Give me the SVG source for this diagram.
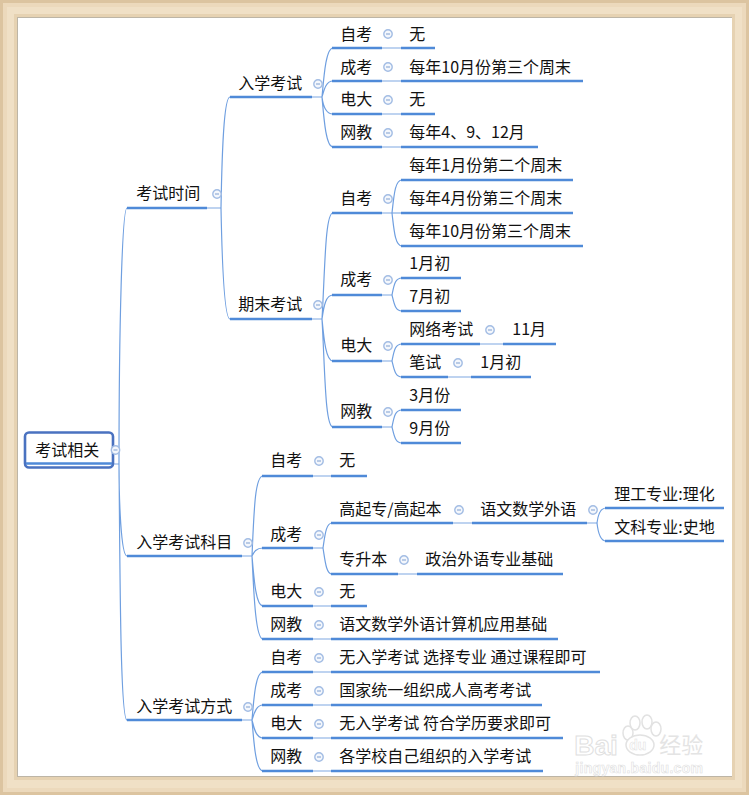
<svg xmlns="http://www.w3.org/2000/svg" width="749" height="795" viewBox="0 0 749 795">
<style>
text{font-family:"Noto Sans CJK SC","Liberation Sans",sans-serif;font-size:16px;fill:#111;transform:translateX(-.7px)}
.u{stroke:#4f8ad8;stroke-width:2.6;fill:none}
.s{stroke:#a9c5ec;stroke-width:1.5;fill:none}
.c{stroke:#6f9fe0;stroke-width:1.2;fill:none}
.wm{font-family:"Liberation Sans",sans-serif;font-weight:bold;fill:#fff;stroke:#e0e0e0;stroke-width:1}
</style>
<defs>
<g id="tg"><circle r="4.200" fill="#f4f7fc" stroke="#a3bde4" stroke-width="1.400"/><path d="M-2 0H2" stroke="#7f9fd0" stroke-width="1"/></g>
</defs>
<g id="frame">
<rect width="749" height="795" fill="#f0e0c6"/>
<rect x="1.500" y="1.500" width="746" height="792" fill="none" stroke="#dcc4a0" stroke-width="3"/>
<rect x="5" y="5" width="739" height="785" fill="none" stroke="#ecd9bc" stroke-width="4"/>
<rect x="15.500" y="15.500" width="718" height="763" fill="none" stroke="#e6d2b2" stroke-width="3"/>
<rect x="17" y="17" width="715" height="760" fill="#bdb5a6"/>
<rect x="18" y="18" width="714" height="758" fill="#fff"/>
</g>
<g id="watermark">
<g fill="#fff" stroke="#e2e2e2" stroke-width="1.500"><ellipse cx="628" cy="733" rx="5" ry="7"/><ellipse cx="635" cy="723" rx="5" ry="7"/><ellipse cx="647" cy="722" rx="5" ry="7"/><ellipse cx="656" cy="729" rx="5" ry="7"/><ellipse cx="640" cy="745" rx="14" ry="10"/></g>
<text class="wm" x="575" y="755" style="font-size:28px">Bai</text>
<text class="wm" x="630" y="750" style="font-size:14px;stroke-width:.5">du</text>
<text x="660" y="753" style="font-size:22px;fill:#e4e4e4">经验</text>
<text class="wm" x="576" y="773" style="font-size:14px;letter-spacing:.3px;stroke-width:.6">jingyan.baidu.com</text>
</g>
<g id="connectors">
<path class="s" d="M113 464H119"/>
<path class="c" d="M119 464C119 330 122 208 127 208M119 464C119 500 121 556 127 556M119 464C120 560 120 720 127 720"/>
<path class="s" d="M207 208H221M242 556H252M242 720H252"/>
<path class="c" d="M221 208C222 150 224 97 230 97M221 208C222 260 224 319 230 319"/>
<path class="s" d="M312 97H322M312 319H322"/>
<path class="c" d="M322 97C324 75 326 48 333 48M322 97C324 90 326 81 333 81M322 97C323 105 326 114 333 114M322 97C324 120 326 147 333 147"/>
<path class="c" d="M322 319C325 270 325 213 333 213M322 319C324 305 326 295 333 295M322 319C324 340 326 361 333 361M322 319C325 370 325 427 333 427"/>
<path class="s" d="M382 48H401M382 81H401M382 114H401M382 147H401M382 213H392M382 295H392M382 361H392M382 427H392"/>
<path class="c" d="M392 213C394 195 395 180 402 180M392 213H402M392 213C394 230 395 246 402 246"/>
<path class="c" d="M392 295C394 285 395 278 402 278M392 295C394 303 395 311 402 311"/>
<path class="c" d="M392 361C394 351 395 344 402 344M392 361C394 369 395 377 402 377"/>
<path class="c" d="M392 427C394 417 395 410 402 410M392 427C394 435 395 443 402 443"/>
<path class="s" d="M480 344H503M448 377H471"/>
<path class="c" d="M252 556C254 510 255 476 263 476M252 556C254 552 256 548 263 548M252 556C254 580 256 606 263 606M252 556C254 600 256 639 263 639"/>
<path class="c" d="M252 720C254 695 256 672 263 672M252 720C254 714 256 705 263 705M252 720C254 728 256 738 263 738M252 720C254 745 256 771 263 771"/>
<path class="s" d="M313 476H331M313 606H331M313 639H331M313 672H331M313 705H331M313 738H331M313 771H331M313 548H323"/>
<path class="c" d="M323 548C325 535 326 523 332 523M323 548C325 560 326 574 332 574"/>
<path class="s" d="M453 523H472M398 574H417M587 523H597"/>
<path class="c" d="M597 523C598 515 600 508 606 508M597 523C598 532 600 541 606 541"/>
</g>
<g id="n-root"><rect x="25" y="432.500" width="88" height="35" rx="4" fill="#fff" stroke="#4a72c0" stroke-width="2.600"/><path class="u" d="M26 463.500H112"/><text x="36" y="456">考试相关</text><use href="#tg" x="115.500" y="450"/></g>
<g id="n-a"><path class="u" d="M127 208H207"/><text x="137" y="199">考试时间</text><use href="#tg" x="217" y="194"/></g>
<g id="n-a1"><path class="u" d="M230 97H312"/><text x="239" y="89">入学考试</text><use href="#tg" x="318" y="84"/></g>
<g id="n-a1-1"><path class="u" d="M332 48H382"/><text x="341" y="40">自考</text><use href="#tg" x="388" y="34"/></g>
<g id="n-a1-1a"><path class="u" d="M401 48H435"/><text x="410" y="40">无</text></g>
<g id="n-a1-2"><path class="u" d="M332 81H382"/><text x="341" y="73">成考</text><use href="#tg" x="388" y="67"/></g>
<g id="n-a1-2a"><path class="u" d="M401 81H583"/><text x="410" y="73">每年10月份第三个周末</text></g>
<g id="n-a1-3"><path class="u" d="M332 114H382"/><text x="341" y="105">电大</text><use href="#tg" x="388" y="100"/></g>
<g id="n-a1-3a"><path class="u" d="M401 114H435"/><text x="410" y="105">无</text></g>
<g id="n-a1-4"><path class="u" d="M332 147H382"/><text x="341" y="138">网教</text><use href="#tg" x="388" y="133"/></g>
<g id="n-a1-4a"><path class="u" d="M401 147H538"/><text x="410" y="138">每年4、9、12月</text></g>
<g id="n-a2"><path class="u" d="M230 319H312"/><text x="239" y="310">期末考试</text><use href="#tg" x="318" y="305"/></g>
<g id="n-a2-1"><path class="u" d="M332 213H382"/><text x="341" y="204">自考</text><use href="#tg" x="388" y="199"/></g>
<g id="n-a2-1a"><path class="u" d="M401 180H573"/><text x="410" y="171">每年1月份第二个周末</text></g>
<g id="n-a2-1b"><path class="u" d="M401 213H573"/><text x="410" y="204">每年4月份第三个周末</text></g>
<g id="n-a2-1c"><path class="u" d="M401 246H583"/><text x="410" y="237">每年10月份第三个周末</text></g>
<g id="n-a2-2"><path class="u" d="M332 295H382"/><text x="341" y="285">成考</text><use href="#tg" x="388" y="280"/></g>
<g id="n-a2-2a"><path class="u" d="M401 278H461"/><text x="410" y="269">1月初</text></g>
<g id="n-a2-2b"><path class="u" d="M401 311H461"/><text x="410" y="302">7月初</text></g>
<g id="n-a2-3"><path class="u" d="M332 361H382"/><text x="341" y="351">电大</text><use href="#tg" x="388" y="346"/></g>
<g id="n-a2-3a"><path class="u" d="M401 344H480"/><text x="410" y="335">网络考试</text><use href="#tg" x="490" y="330"/></g>
<g id="n-a2-3a1"><path class="u" d="M503 344H556"/><text x="513" y="335">11月</text></g>
<g id="n-a2-3b"><path class="u" d="M401 377H448"/><text x="410" y="368">笔试</text><use href="#tg" x="458" y="363"/></g>
<g id="n-a2-3b1"><path class="u" d="M471 377H531"/><text x="481" y="368">1月初</text></g>
<g id="n-a2-4"><path class="u" d="M332 427H382"/><text x="341" y="417">网教</text><use href="#tg" x="388" y="412"/></g>
<g id="n-a2-4a"><path class="u" d="M401 410H461"/><text x="410" y="401">3月份</text></g>
<g id="n-a2-4b"><path class="u" d="M401 443H461"/><text x="410" y="434">9月份</text></g>
<g id="n-b"><path class="u" d="M127 556H242"/><text x="137" y="548">入学考试科目</text><use href="#tg" x="248" y="543"/></g>
<g id="n-b1"><path class="u" d="M262 476H313"/><text x="271" y="466">自考</text><use href="#tg" x="319" y="461"/></g>
<g id="n-b1a"><path class="u" d="M331 476H367"/><text x="340" y="466">无</text></g>
<g id="n-b2"><path class="u" d="M262 548H313"/><text x="271" y="540">成考</text><use href="#tg" x="319" y="535"/></g>
<g id="n-b2a"><path class="u" d="M331 523H453"/><text x="340" y="515">高起专/高起本</text><use href="#tg" x="459" y="510"/></g>
<g id="n-b2a1"><path class="u" d="M472 523H587"/><text x="481" y="515">语文数学外语</text><use href="#tg" x="593" y="510"/></g>
<g id="n-b2a1a"><path class="u" d="M605 508H724"/><text x="615" y="500">理工专业:理化</text></g>
<g id="n-b2a1b"><path class="u" d="M605 541H724"/><text x="615" y="533">文科专业:史地</text></g>
<g id="n-b2b"><path class="u" d="M331 574H398"/><text x="340" y="565">专升本</text><use href="#tg" x="404" y="560"/></g>
<g id="n-b2b1"><path class="u" d="M417 574H563"/><text x="426" y="565">政治外语专业基础</text></g>
<g id="n-b3"><path class="u" d="M262 606H313"/><text x="271" y="597">电大</text><use href="#tg" x="319" y="592"/></g>
<g id="n-b3a"><path class="u" d="M331 606H367"/><text x="340" y="597">无</text></g>
<g id="n-b4"><path class="u" d="M262 639H313"/><text x="271" y="630">网教</text><use href="#tg" x="319" y="625"/></g>
<g id="n-b4a"><path class="u" d="M331 639H558"/><text x="340" y="630">语文数学外语计算机应用基础</text></g>
<g id="n-c"><path class="u" d="M127 720H242"/><text x="137" y="712">入学考试方式</text><use href="#tg" x="248" y="707"/></g>
<g id="n-c1"><path class="u" d="M262 672H313"/><text x="271" y="663">自考</text><use href="#tg" x="319" y="658"/></g>
<g id="n-c1a"><path class="u" d="M331 672H600"/><text x="340" y="663">无入学考试 选择专业 通过课程即可</text></g>
<g id="n-c2"><path class="u" d="M262 705H313"/><text x="271" y="696">成考</text><use href="#tg" x="319" y="691"/></g>
<g id="n-c2a"><path class="u" d="M331 705H542"/><text x="340" y="696">国家统一组织成人高考考试</text></g>
<g id="n-c3"><path class="u" d="M262 738H313"/><text x="271" y="729">电大</text><use href="#tg" x="319" y="724"/></g>
<g id="n-c3a"><path class="u" d="M331 738H563"/><text x="340" y="729">无入学考试 符合学历要求即可</text></g>
<g id="n-c4"><path class="u" d="M262 771H313"/><text x="271" y="762">网教</text><use href="#tg" x="319" y="757"/></g>
<g id="n-c4a"><path class="u" d="M331 771H543"/><text x="340" y="762">各学校自己组织的入学考试</text></g>
</svg>
